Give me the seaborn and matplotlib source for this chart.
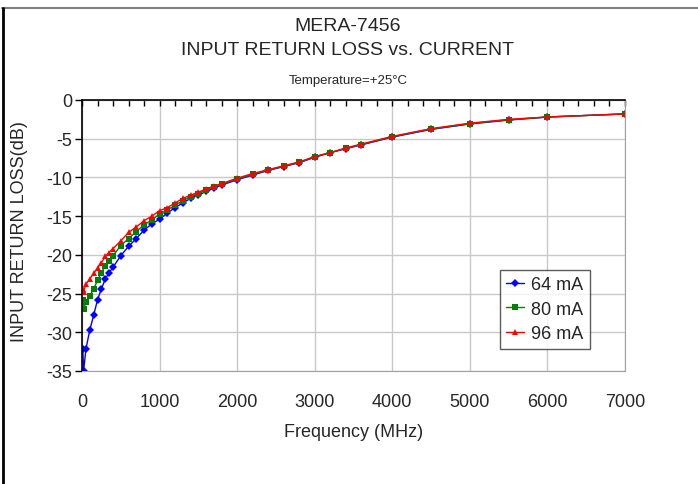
import pandas as pd
import matplotlib.pyplot as plt
import seaborn as sns
from matplotlib.lines import Line2D
from matplotlib.ticker import MultipleLocator

# --- data ---
freq = [10, 20, 50, 100, 150, 200, 250, 300, 350, 400, 500, 600, 700, 800, 900,
        1000, 1100, 1200, 1300, 1400, 1500, 1600, 1700, 1800, 2000, 2200, 2400,
        2600, 2800, 3000, 3200, 3400, 3600, 4000, 4500, 5000, 5500, 6000, 7000]

rl_64 = [-32.2, -35.0, -32.2, -29.7, -27.8, -25.8, -24.4, -23.1, -22.3, -21.6, -20.1,
         -18.9, -17.9, -16.8, -16.0, -15.4, -14.6, -13.9, -13.3, -12.7, -12.3, -11.8,
         -11.4, -11.0, -10.3, -9.7, -9.1, -8.6, -8.1, -7.4, -6.8, -6.3, -5.8, -4.8,
         -3.8, -3.1, -2.6, -2.2, -1.8]
rl_80 = [-25.8, -27.0, -26.1, -25.3, -24.4, -23.3, -22.3, -21.4, -20.8, -20.1, -18.8,
         -17.9, -17.0, -16.1, -15.5, -14.7, -14.2, -13.6, -13.0, -12.5, -12.1, -11.6,
         -11.25, -10.9, -10.2, -9.6, -9.05, -8.55, -8.05, -7.35, -6.8, -6.25, -5.75,
         -4.75, -3.75, -3.05, -2.55, -2.2, -1.8]
rl_96 = [-24.4, -24.8, -23.8, -23.1, -22.4, -21.7, -21.0, -20.2, -19.7, -19.2, -18.2,
         -17.1, -16.4, -15.6, -15.0, -14.3, -13.9, -13.3, -12.7, -12.3, -11.9, -11.5,
         -11.1, -10.8, -10.1, -9.5, -9.0, -8.5, -8.0, -7.3, -6.8, -6.2, -5.7, -4.7,
         -3.7, -3.0, -2.5, -2.2, -1.8]
labels = ['64 mA', '80 mA', '96 mA']

df = pd.concat([
    pd.DataFrame({'Frequency': freq, 'RL': vals, 'Current': lab})
    for vals, lab in zip([rl_64, rl_80, rl_96], labels)
])

sns.set_style('white')
plt.rcParams['font.family'] = ['Liberation Sans', 'DejaVu Sans']
plt.rcParams['axes.unicode_minus'] = False

fig = plt.figure(figsize=(6.98, 4.85), dpi=100)
ax = fig.add_axes([0.1175, 0.233, 0.7779, 0.5588])

palette = {'64 mA': '#0000ff', '80 mA': '#008000', '96 mA': '#ff0000'}
markers = {'64 mA': 'D', '80 mA': 's', '96 mA': '^'}
sns.lineplot(data=df, x='Frequency', y='RL', hue='Current', style='Current',
             palette=palette, markers=markers, dashes=False, markersize=4.5,
             markeredgewidth=0, linewidth=1, ax=ax)

ax.set_xlim(0, 7000)
ax.set_ylim(-35, 0)
ax.xaxis.set_major_locator(MultipleLocator(1000))
ax.xaxis.set_minor_locator(MultipleLocator(200))
ax.yaxis.set_major_locator(MultipleLocator(5))
ax.grid(True, which='major', color='#c8c8c8', linewidth=1)
ax.set_axisbelow(True)

ax.tick_params(axis='x', which='both', bottom=False, top=True, labelbottom=True,
               labeltop=False, direction='in', length=4, width=1, color='black',
               labelsize=13, pad=16)
ax.tick_params(axis='y', which='major', left=True, direction='out', length=5,
               width=1, color='black', labelsize=13, pad=2)

for side in ['bottom', 'right']:
    ax.spines[side].set_color('#a0a0a0')
for side in ['top', 'left']:
    ax.spines[side].set_color('black')
    ax.spines[side].set_linewidth(1.2)

ax.set_xlabel('Frequency (MHz)', fontsize=13, labelpad=9)
ax.set_ylabel('INPUT RETURN LOSS(dB)', fontsize=13, labelpad=4)
ax.yaxis.set_label_coords(-0.1, 0.52)

fig.text(0.4985, 0.945, 'MERA-7456', ha='center', va='center', fontsize=14)
fig.text(0.4985, 0.895, 'INPUT RETURN LOSS vs. CURRENT', ha='center', va='center', fontsize=14)
fig.text(0.4985, 0.832, 'Temperature=+25°C', ha='center', va='center', fontsize=9.5)

leg = ax.legend(loc='upper right', bbox_to_anchor=(0.9355, 0.373), fontsize=13,
                frameon=True, fancybox=False, edgecolor='#333333', borderaxespad=0,
                handlelength=1.0, handletextpad=0.4, labelspacing=0.42,
                borderpad=0.35)
leg.get_frame().set_linewidth(1)

# outer frame remnants of the original chart box
fig.add_artist(Line2D([0.003, 1.0], [0.981, 0.981], transform=fig.transFigure,
                      color='#808080', linewidth=1.5))
fig.add_artist(Line2D([0.004, 0.004], [0.0, 0.981], transform=fig.transFigure,
                      color='black', linewidth=2))

fig.savefig('out.png', dpi=100)
